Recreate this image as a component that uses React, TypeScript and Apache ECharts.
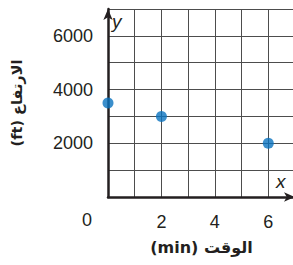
import React, { useEffect, useRef } from "react";
import * as echarts from "echarts";

const xValues = [0, 2, 6];
const yValues = [3500, 3000, 2000];
const xTickLabels = ["2", "4", "6"];
const yTickLabels = ["2000", "4000", "6000"];
const xAxisTitle = "(min) الوقت";
const yAxisTitle = "(ft) الارتفاع";
const originLabel = "0";

export default function App() {
  const ref = useRef<HTMLDivElement>(null);
  useEffect(() => {
    document.body.style.margin = "0";
    const chart = echarts.init(ref.current!, null, { renderer: "svg" });
    const tickFont = { fontFamily: "Liberation Sans", fontSize: 18, color: "#231f20" };
    chart.setOption({
      animation: false,
      backgroundColor: "#ffffff",
      grid: { left: 108, top: 9, width: 187, height: 188, outerBoundsMode: "none", containLabel: false },
      xAxis: {
        type: "value",
        min: 0,
        max: 7,
        interval: 1,
        name: xAxisTitle,
        nameLocation: "middle",
        nameGap: 42,
        nameTextStyle: { fontFamily: "DejaVu Sans", fontWeight: "bold", fontSize: 16, color: "#231f20" },
        axisLine: {
          show: true,
          symbol: ["none", "arrow"],
          symbolSize: [7, 11],
          lineStyle: { color: "#231f20", width: 2.5 },
        },
        axisTick: { show: false },
        axisLabel: {
          ...tickFont,
          margin: 16,
          formatter: (v: number) => (xTickLabels.includes(String(v)) ? String(v) : ""),
        },
        splitLine: { show: true, lineStyle: { color: "#4d4d4d", width: 1 } },
      },
      yAxis: {
        type: "value",
        min: 0,
        max: 7000,
        interval: 1000,
        name: yAxisTitle,
        nameLocation: "middle",
        nameGap: 84,
        nameRotate: 90,
        nameTextStyle: { fontFamily: "DejaVu Sans", fontWeight: "bold", fontSize: 14.5, color: "#231f20" },
        axisLine: {
          show: true,
          symbol: ["none", "arrow"],
          symbolSize: [7, 11],
          lineStyle: { color: "#231f20", width: 2.5 },
        },
        axisTick: { show: false },
        axisLabel: {
          ...tickFont,
          margin: 15,
          formatter: (v: number) => (yTickLabels.includes(String(v)) ? String(v) : ""),
        },
        splitLine: { show: true, lineStyle: { color: "#4d4d4d", width: 1 } },
      },
      graphic: [
        {
          type: "text",
          left: 82,
          top: 211,
          style: { text: originLabel, fontFamily: "Liberation Sans", fontSize: 18, fill: "#231f20" },
        },
        {
          type: "text",
          left: 112,
          top: 12,
          style: { text: "y", fontFamily: "Liberation Sans", fontStyle: "italic", fontSize: 19, fill: "#231f20" },
        },
        {
          type: "text",
          left: 276,
          top: 172,
          style: { text: "x", fontFamily: "Liberation Sans", fontStyle: "italic", fontSize: 19, fill: "#231f20" },
        },
      ],
      series: [
        {
          type: "scatter",
          data: xValues.map((x, i) => [x, yValues[i]]),
          symbolSize: 11,
          clip: false,
          itemStyle: { color: "#0a73bf" },
        },
      ],
    });
    return () => chart.dispose();
  }, []);
  return <div ref={ref} style={{ width: 293, height: 265 }} />;
}
